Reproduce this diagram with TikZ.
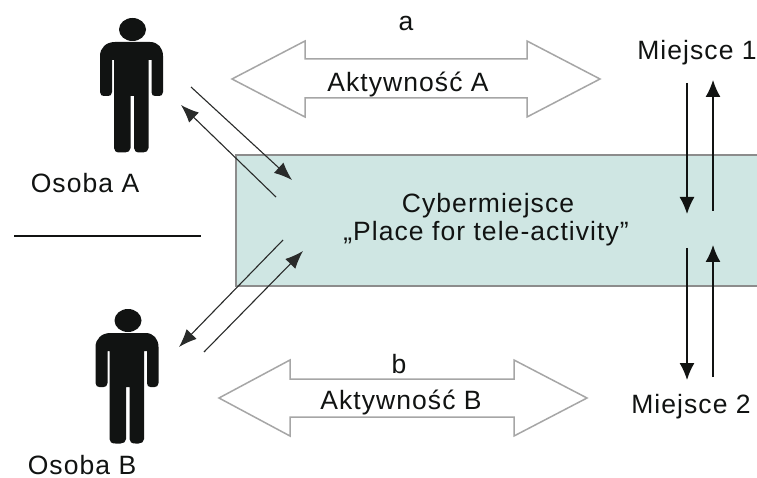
\documentclass[tikz,border=0pt]{standalone}
\usepackage{fontspec}
\setmainfont[LetterSpace=4]{Liberation Sans}
\usetikzlibrary{arrows.meta}
\definecolor{cyber}{HTML}{CFE6E3}
\definecolor{edgegray}{HTML}{8C8C8C}
\definecolor{blockgray}{HTML}{A6A6A6}
\definecolor{ink}{HTML}{111312}
\tikzset{
  lab/.style={inner sep=0pt,text=ink,font=\fontsize{26.5}{30}\selectfont},
  blockarrow/.style={draw=blockgray,line width=1.5pt,fill=white,line join=miter},
  flow/.style={draw=ink,line width=1.4pt,-{Latex[length=17pt,width=15pt]}},
  flowthin/.style={draw=ink!90,line width=1.1pt,-{Latex[length=18pt,width=14pt]}},
  person/.pic={
    \fill[ink] (132.5,29.5) ellipse [x radius=13.5,y radius=11.5];
    % torso and arms
    \fill[ink] (115,42) -- (150,42) .. controls (158,42) and (163,48) .. (163,56)
      -- (163,92) .. controls (163,95) and (161,96) .. (159,96)
      -- (155,96) .. controls (153,96) and (151.5,95) .. (151.5,92) -- (151.5,60) -- (148.5,60)
      -- (148.5,148) .. controls (148.5,151) and (146,152.5) .. (143,152.5)
      -- (140,152.5) .. controls (136,152.5) and (134,151) .. (134,148) -- (134,96) -- (130.5,96)
      -- (130.5,148) .. controls (130.5,151) and (128,152.5) .. (125,152.5)
      -- (120,152.5) .. controls (116,152.5) and (114,151) .. (114,148)
      -- (114,60) -- (112,60) -- (112,92) .. controls (112,95) and (110,96) .. (108,96)
      -- (104,96) .. controls (102,96) and (100,95) .. (100,92) -- (100,56)
      .. controls (100,48) and (106,42) .. (115,42) -- cycle;
  }
}
\begin{document}
\begin{tikzpicture}[x=1pt,y=-1pt]
\useasboundingbox (0,0) rectangle (757,478);
\fill[white] (0,0) rectangle (757,478);
% cyber place band
\fill[cyber] (236,155) rectangle (757,286);
\draw[edgegray,line width=1.3pt] (757,155) -- (236,155) -- (236,286) -- (757,286);
\node[lab] (cyber1) at (488,206) {Cybermiejsce};
\node[lab] (cyber2) at (486,234) {„Place for tele-activity"};
% people
\pic at (0,0) {person};
\pic at (-4.5,291) {person};
\node[lab] (osobaA) at (85,183) {Osoba A};
\node[lab] (osobaB) at (82,465) {Osoba B};
% divider
\coordinate (divL) at (14,236);
\coordinate (divR) at (201,236);
\draw[ink,line width=1.2pt] (divL) -- (divR);
% block arrows
\draw[blockarrow] (232,79) -- (305,41) -- (305,59) -- (527,59) -- (527,41) -- (600,79) -- (527,117) -- (527,98) -- (305,98) -- (305,117) -- cycle;
\draw[blockarrow] (219,398) -- (290,360) -- (290,379) -- (514,379) -- (514,360) -- (587,398) -- (514,436) -- (514,417) -- (290,417) -- (290,436) -- cycle;
\node[lab] (akta) at (408,84) {Aktywność A};
\node[lab] (aktb) at (401,402) {Aktywność B};
\node[lab] (a) at (406,24) {a};
\node[lab] (b) at (399,364) {b};
\node[lab] (m1) at (697,53) {Miejsce 1};
\node[lab] (m2) at (691,407) {Miejsce 2};
% diagonal flows
\coordinate (a1s) at (191,87);
\coordinate (a1e) at (292,180);
\coordinate (a2s) at (276,197);
\coordinate (a2e) at (181,105);
\coordinate (b1s) at (283,240);
\coordinate (b1e) at (179,347);
\coordinate (b2s) at (204,352);
\coordinate (b2e) at (303,251);
\draw[flowthin] (a1s) -- (a1e);
\draw[flowthin] (a2s) -- (a2e);
\draw[flowthin] (b1s) -- (b1e);
\draw[flowthin] (b2s) -- (b2e);
% vertical flows
\coordinate (v1s) at (687,83);
\coordinate (v1e) at (687,214);
\coordinate (v2s) at (713,211);
\coordinate (v2e) at (713,80);
\coordinate (v3s) at (687,248);
\coordinate (v3e) at (687,380);
\coordinate (v4s) at (713,377);
\coordinate (v4e) at (713,245);
\draw[flow] (v1s) -- (v1e);
\draw[flow] (v2s) -- (v2e);
\draw[flow] (v3s) -- (v3e);
\draw[flow] (v4s) -- (v4e);
\end{tikzpicture}
\end{document}
